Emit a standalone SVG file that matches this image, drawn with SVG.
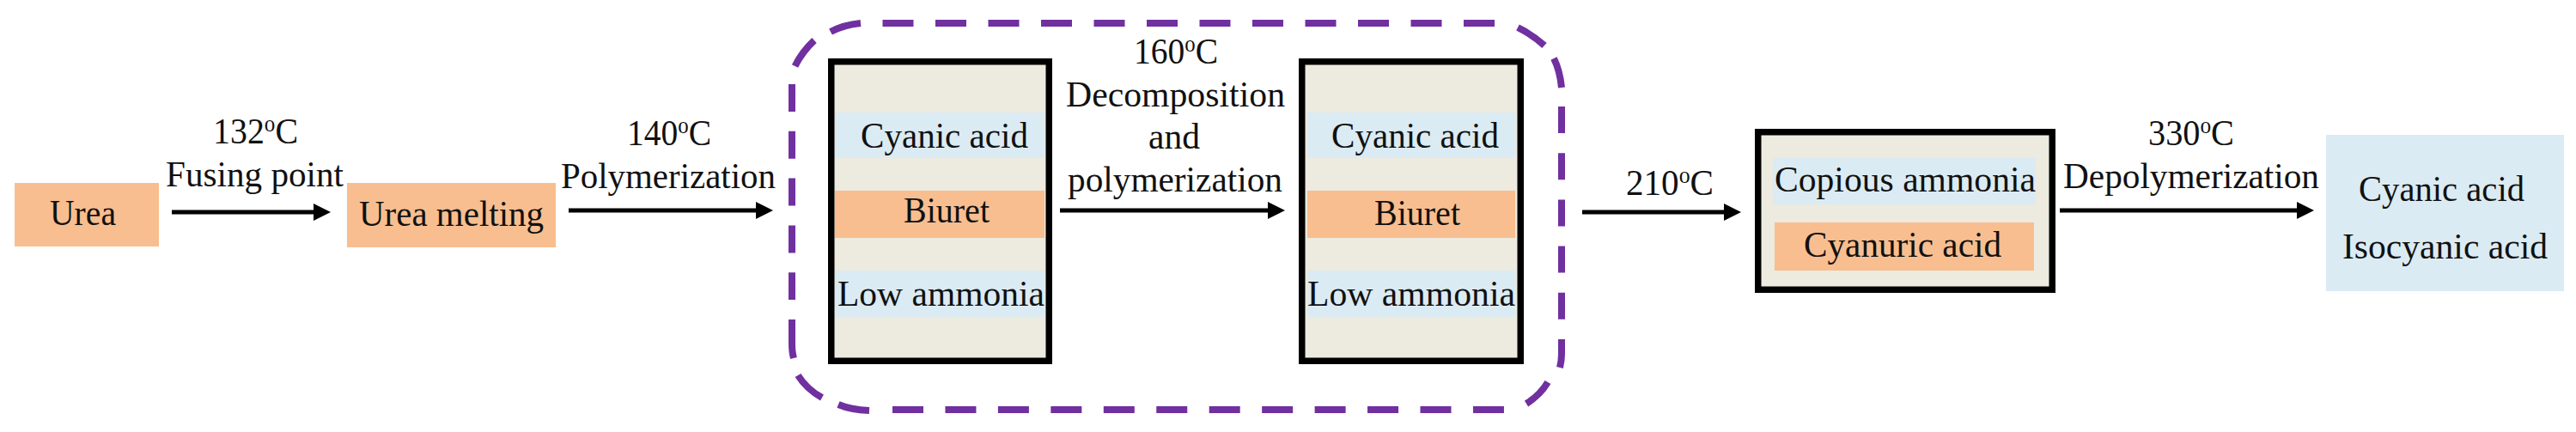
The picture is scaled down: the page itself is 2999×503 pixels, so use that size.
<svg xmlns="http://www.w3.org/2000/svg" width="2999" height="503" viewBox="0 0 2999 503">
<style>
text{font-family:"Liberation Serif","Times New Roman",serif;font-size:43px;fill:#111}
.sup{font-size:27px}
.o{fill:#F8BE8F}
.b{fill:#DBEBF3}
.box{fill:#EDEAE0;stroke:#000;stroke-width:7.5}
.arrow{fill:none;stroke:#000;stroke-width:5;marker-end:url(#head)}
.group{fill:none;stroke:#7030A0;stroke-width:8}
</style>
<defs>
<marker id="head" markerUnits="userSpaceOnUse" markerWidth="20" markerHeight="20" refX="0" refY="10" orient="auto" viewBox="0 0 20 20"><path d="M0 0L20 10L0 20Z" fill="#000"/></marker>
</defs>
<rect width="2999" height="503" fill="#fff"/>
<g id="group-160">
<path class="group" stroke-dasharray="36 25.5" d="M1027.5 27H1742"/>
<path class="group" stroke-dasharray="36 25.45" d="M1039 477H1751"/>
<path class="group" stroke-dasharray="32 22.8" d="M922 98V349"/>
<path class="group" stroke-dasharray="31 23.2" d="M1818 124V372"/>
<path class="group" d="M967 37Q982 29 1002 27M925.5 77Q934 60 948 47M1767 32Q1785 41 1798 53M1809 68Q1816 82 1818 102M1818 395V412Q1818 420 1816 428M1802 445Q1793 460 1777 470M922 372V400Q922 410 924 417M929 437Q939 453 957 463M976 471Q990 477 1012 478"/>
</g>
<g id="connectors">
<path class="arrow" d="M200 247H365"/>
<path class="arrow" d="M662 245H880"/>
<path class="arrow" d="M1234 245H1476"/>
<path class="arrow" d="M1842 247H2007"/>
<path class="arrow" d="M2398 245H2674"/>
</g>
<g id="urea">
<rect class="o" x="17" y="213" width="168" height="74"/>
<text x="58" y="262" textLength="77" lengthAdjust="spacingAndGlyphs">Urea</text>
</g>
<g id="urea-melting">
<rect class="o" x="404" y="213" width="243" height="75"/>
<text x="418" y="263" textLength="215" lengthAdjust="spacingAndGlyphs">Urea melting</text>
</g>
<g id="label-132">
<text x="248" y="167" textLength="99" lengthAdjust="spacingAndGlyphs">132<tspan class="sup" dy="-14">o</tspan><tspan dy="14">C</tspan></text>
<text x="193" y="217" textLength="207" lengthAdjust="spacingAndGlyphs">Fusing point</text>
</g>
<g id="label-140">
<text x="730" y="169" textLength="98" lengthAdjust="spacingAndGlyphs">140<tspan class="sup" dy="-14">o</tspan><tspan dy="14">C</tspan></text>
<text x="653" y="219" textLength="250" lengthAdjust="spacingAndGlyphs">Polymerization</text>
</g>
<g id="mix-1">
<rect class="box" x="967.75" y="71.75" width="253.5" height="348.5"/>
<rect class="b" x="972" y="131" width="244" height="53"/>
<rect class="o" x="972" y="222" width="244" height="55"/>
<rect class="b" x="972" y="315" width="244" height="54"/>
<text x="1002" y="172" textLength="195" lengthAdjust="spacingAndGlyphs">Cyanic acid</text>
<text x="1052" y="259" textLength="100" lengthAdjust="spacingAndGlyphs">Biuret</text>
<text x="975" y="356" textLength="241" lengthAdjust="spacingAndGlyphs">Low ammonia</text>
</g>
<g id="label-160">
<text x="1320" y="74" textLength="98" lengthAdjust="spacingAndGlyphs">160<tspan class="sup" dy="-14">o</tspan><tspan dy="14">C</tspan></text>
<text x="1241" y="124" textLength="255" lengthAdjust="spacingAndGlyphs">Decomposition</text>
<text x="1337" y="173" textLength="60" lengthAdjust="spacingAndGlyphs">and</text>
<text x="1243" y="223" textLength="250" lengthAdjust="spacingAndGlyphs">polymerization</text>
</g>
<g id="mix-2">
<rect class="box" x="1515.75" y="71.75" width="254.5" height="348.5"/>
<rect class="b" x="1522" y="131" width="242" height="53"/>
<rect class="o" x="1522" y="222" width="242" height="55"/>
<rect class="b" x="1522" y="315" width="242" height="54"/>
<text x="1550" y="172" textLength="195" lengthAdjust="spacingAndGlyphs">Cyanic acid</text>
<text x="1600" y="262" textLength="100" lengthAdjust="spacingAndGlyphs">Biuret</text>
<text x="1522" y="356" textLength="242" lengthAdjust="spacingAndGlyphs">Low ammonia</text>
</g>
<g id="label-210">
<text x="1893" y="227" textLength="102" lengthAdjust="spacingAndGlyphs">210<tspan class="sup" dy="-14">o</tspan><tspan dy="14">C</tspan></text>
</g>
<g id="mix-3">
<rect class="box" x="2046.75" y="153.75" width="342.5" height="183.5"/>
<rect class="b" x="2064" y="184" width="306" height="54"/>
<rect class="o" x="2066" y="259" width="302" height="56"/>
<text x="2066" y="223" textLength="304" lengthAdjust="spacingAndGlyphs">Copious ammonia</text>
<text x="2100" y="299" textLength="230" lengthAdjust="spacingAndGlyphs">Cyanuric acid</text>
</g>
<g id="label-330">
<text x="2501" y="169" textLength="100" lengthAdjust="spacingAndGlyphs">330<tspan class="sup" dy="-14">o</tspan><tspan dy="14">C</tspan></text>
<text x="2402" y="219" textLength="298" lengthAdjust="spacingAndGlyphs">Depolymerization</text>
</g>
<g id="products">
<rect class="b" x="2708" y="157" width="277" height="182"/>
<text x="2746" y="234" textLength="193" lengthAdjust="spacingAndGlyphs">Cyanic acid</text>
<text x="2727" y="301" textLength="239" lengthAdjust="spacingAndGlyphs">Isocyanic acid</text>
</g>
</svg>
